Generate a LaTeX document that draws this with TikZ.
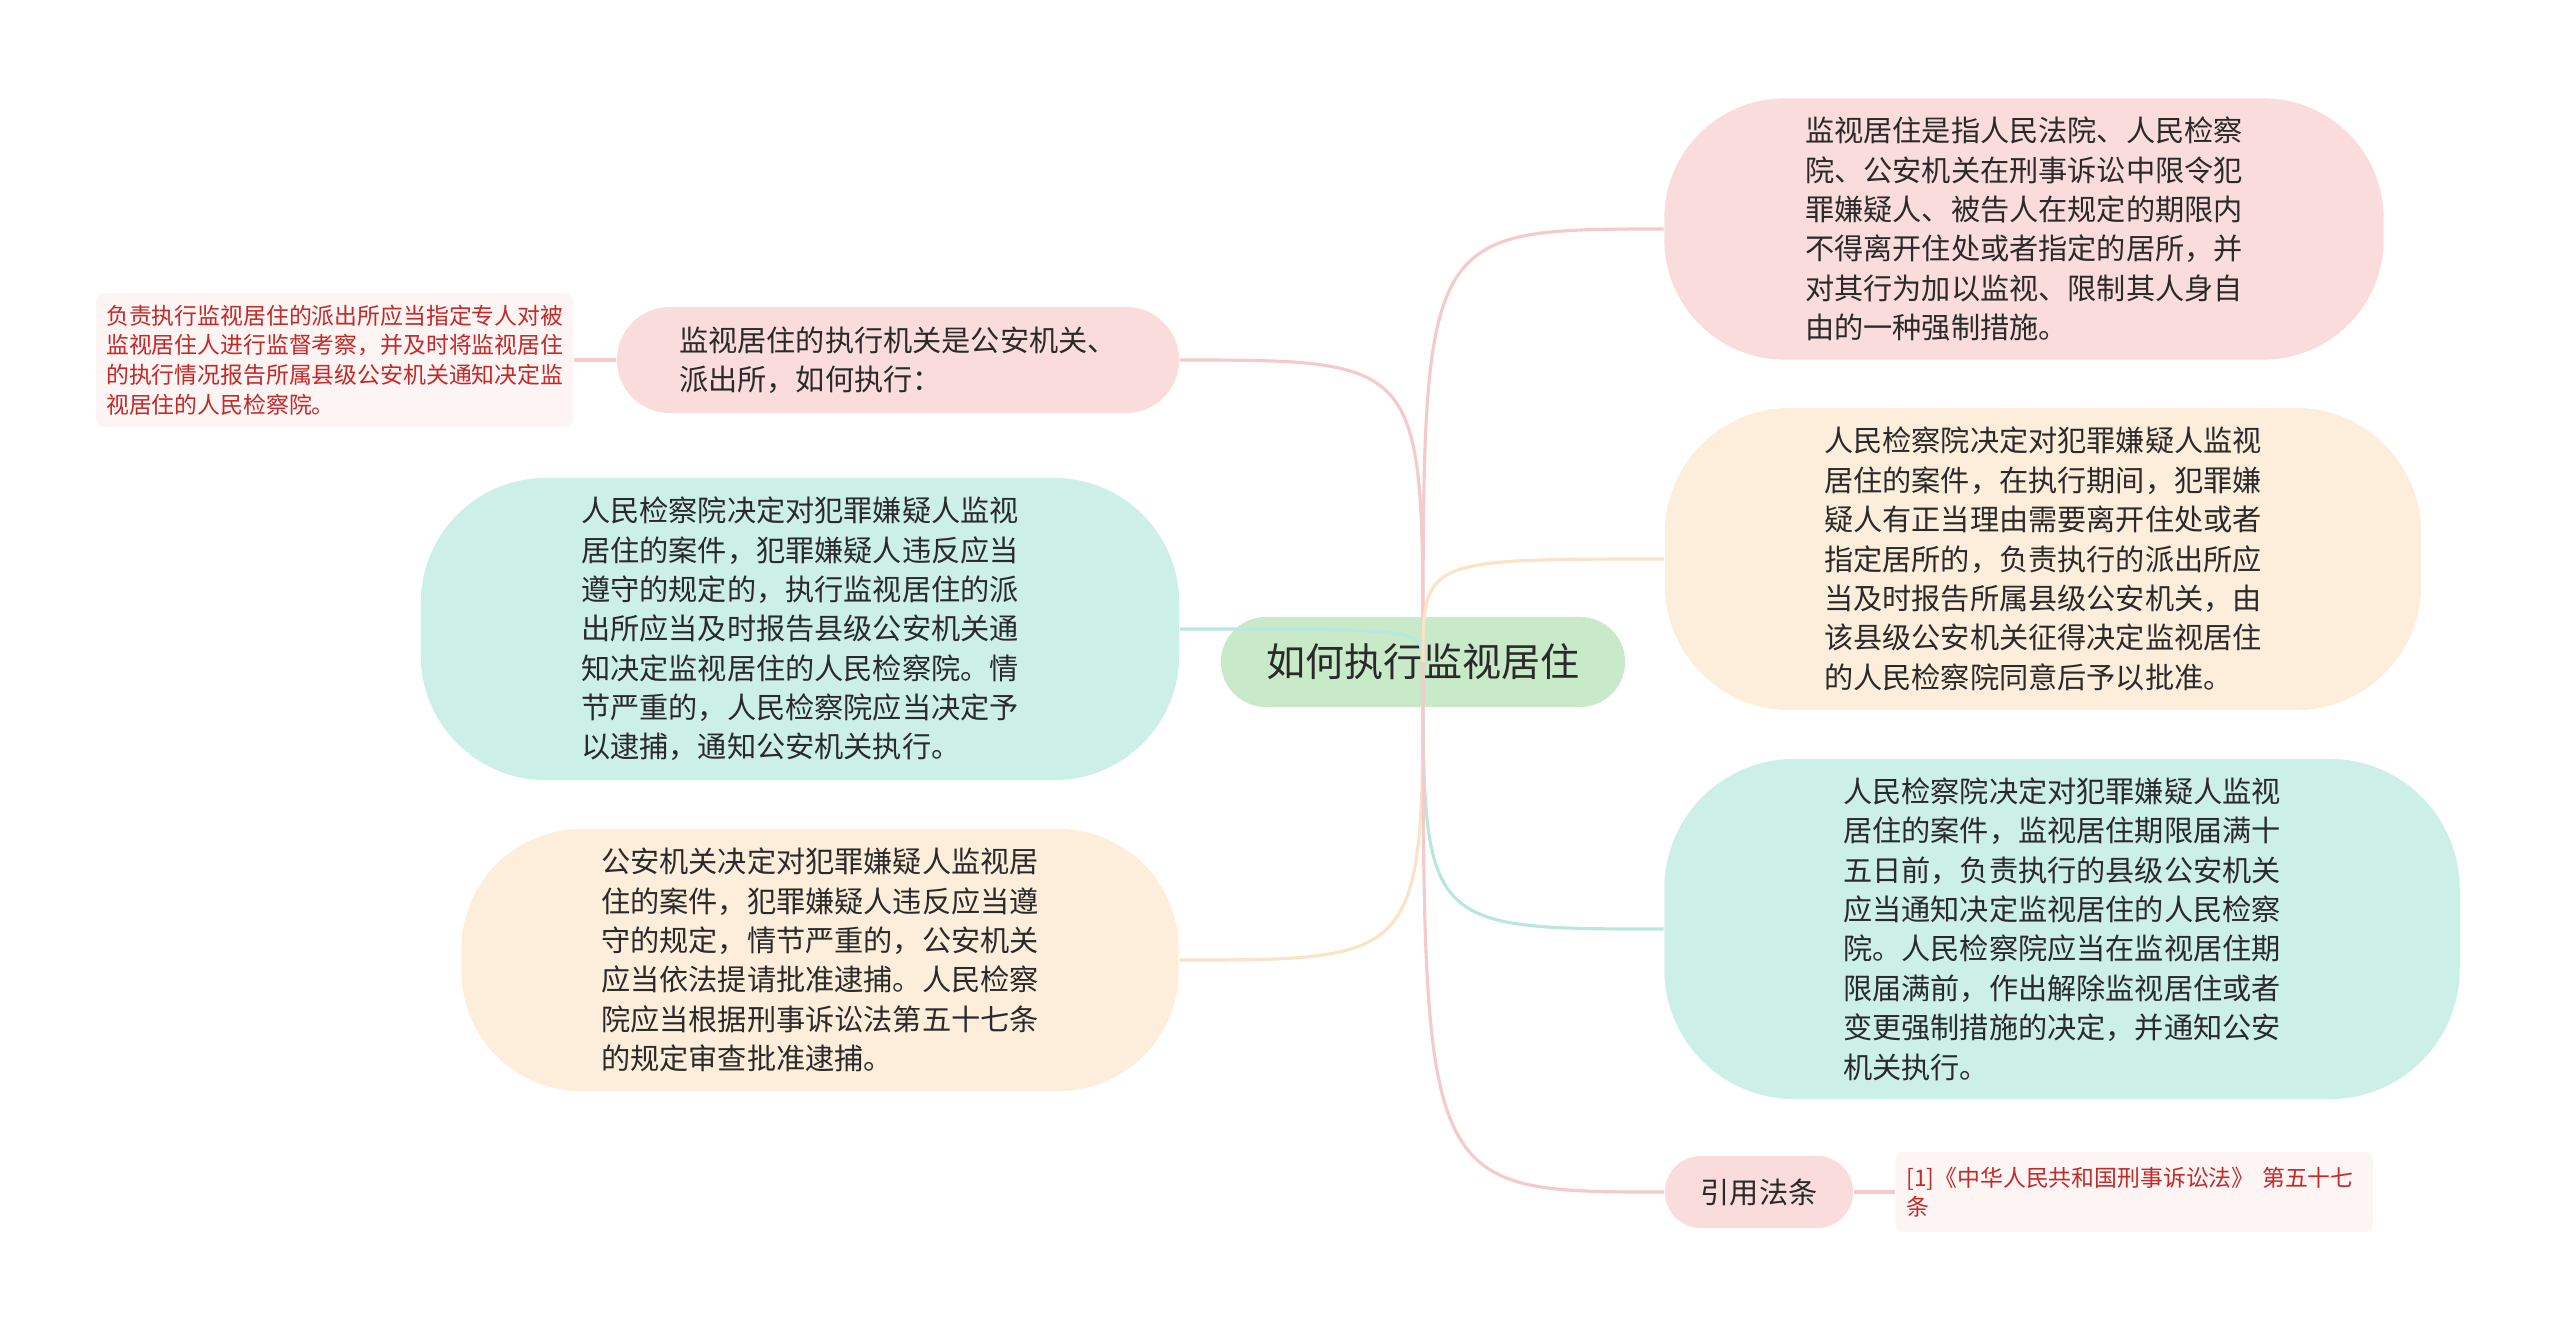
\documentclass[tikz,border=0pt]{standalone}
\usepackage{fontspec}
\setmainfont{Noto Sans CJK SC}
\usepackage{xcolor}
\usetikzlibrary{positioning}

\definecolor{pinkfill}{HTML}{FADCDC}
\definecolor{tealfill}{HTML}{CCEFE7}
\definecolor{peachfill}{HTML}{FDEEDC}
\definecolor{rootfill}{HTML}{C8EAC8}
\definecolor{notefill}{HTML}{FDF4F4}
\definecolor{notetext}{HTML}{C62828}
\definecolor{pinkline}{HTML}{F5CACA}
\definecolor{tealline}{HTML}{B8E8DD}
\definecolor{peachline}{HTML}{FBE3C8}
\definecolor{bodytext}{HTML}{2A2A2A}

\begin{document}
\begin{tikzpicture}[
        x=0.01cm, y=-0.01cm,
        root/.style={rectangle, rounded corners=0.45cm, fill=rootfill, text=bodytext, inner sep=0pt, minimum width=4.04cm, minimum height=0.9cm, font=\fontsize{11.1pt}{13pt}\selectfont},
        topic/.style={rectangle, fill=#1fill, text=bodytext, inner sep=0pt, align=left, font=\fontsize{8.3pt}{11.2pt}\selectfont},
        note/.style={rectangle, rounded corners=0.08cm, fill=notefill, text=notetext, inner sep=0pt, align=left, font=\fontsize{6.5pt}{8.4pt}\selectfont},
        branch/.style={line width=0.9pt, color=#1line}
    ]

    \useasboundingbox (0,0) rectangle (2560,1329);

    % Central topic
    \node[root] (center) at (1423,662) {如何执行监视居住};

    % Left branches
    \node[topic=pink, rounded corners=0.53cm, minimum width=5.62cm, minimum height=1.06cm] (organ) at (898,360) {监视居住的执行机关是公安机关、\\派出所，如何执行：};
    \node[note, minimum width=4.77cm, minimum height=1.34cm, left=0.42cm of organ] (organnote) {负责执行监视居住的派出所应当指定专人对被\\监视居住人进行监督考察，并及时将监视居住\\的执行情况报告所属县级公安机关通知决定监\\视居住的人民检察院。};
    \node[topic=teal, rounded corners=1.25cm, minimum width=7.58cm, minimum height=3.02cm] (procarrest) at (800,629) {人民检察院决定对犯罪嫌疑人监视\\居住的案件，犯罪嫌疑人违反应当\\遵守的规定的，执行监视居住的派\\出所应当及时报告县级公安机关通\\知决定监视居住的人民检察院。情\\节严重的，人民检察院应当决定予\\以逮捕，通知公安机关执行。};
    \node[topic=peach, rounded corners=1.2cm, minimum width=7.17cm, minimum height=2.62cm] (policearrest) at (820,960) {公安机关决定对犯罪嫌疑人监视居\\住的案件，犯罪嫌疑人违反应当遵\\守的规定，情节严重的，公安机关\\应当依法提请批准逮捕。人民检察\\院应当根据刑事诉讼法第五十七条\\的规定审查批准逮捕。};

    % Right branches
    \node[topic=pink, rounded corners=1.2cm, minimum width=7.19cm, minimum height=2.61cm] (define) at (2024,229) {监视居住是指人民法院、人民检察\\院、公安机关在刑事诉讼中限令犯\\罪嫌疑人、被告人在规定的期限内\\不得离开住处或者指定的居所，并\\对其行为加以监视、限制其人身自\\由的一种强制措施。};
    \node[topic=peach, rounded corners=1.25cm, minimum width=7.56cm, minimum height=3.02cm] (leave) at (2043,559) {人民检察院决定对犯罪嫌疑人监视\\居住的案件，在执行期间，犯罪嫌\\疑人有正当理由需要离开住处或者\\指定居所的，负责执行的派出所应\\当及时报告所属县级公安机关，由\\该县级公安机关征得决定监视居住\\的人民检察院同意后予以批准。};
    \node[topic=teal, rounded corners=1.3cm, minimum width=7.95cm, minimum height=3.4cm] (expire) at (2062,929) {人民检察院决定对犯罪嫌疑人监视\\居住的案件，监视居住期限届满十\\五日前，负责执行的县级公安机关\\应当通知决定监视居住的人民检察\\院。人民检察院应当在监视居住期\\限届满前，作出解除监视居住或者\\变更强制措施的决定，并通知公安\\机关执行。};
    \node[topic=pink, rounded corners=0.36cm, minimum width=1.88cm, minimum height=0.72cm] (cite) at (1759,1192) {引用法条};
    \node[note, minimum width=4.77cm, minimum height=0.8cm, right=0.41cm of cite, text width=4.55cm] (law) {[1]《中华人民共和国刑事诉讼法》 第五十七\\条};

    % Connectors
    \draw[branch=pink] (center.center) .. controls (center.center |- organ.east) .. (organ.east);
    \draw[branch=teal] (center.center) .. controls (center.center |- procarrest.east) .. (procarrest.east);
    \draw[branch=peach] (center.center) .. controls (center.center |- policearrest.east) .. (policearrest.east);
    \draw[branch=pink] (center.center) .. controls (center.center |- define.west) .. (define.west);
    \draw[branch=peach] (center.center) .. controls (center.center |- leave.west) .. (leave.west);
    \draw[branch=teal] (center.center) .. controls (center.center |- expire.west) .. (expire.west);
    \draw[branch=pink] (center.center) .. controls (center.center |- cite.west) .. (cite.west);
    \draw[branch=pink] (organ.west) -- (organnote.east);
    \draw[branch=pink] (cite.east) -- (law.west);

\end{tikzpicture}
\end{document}
